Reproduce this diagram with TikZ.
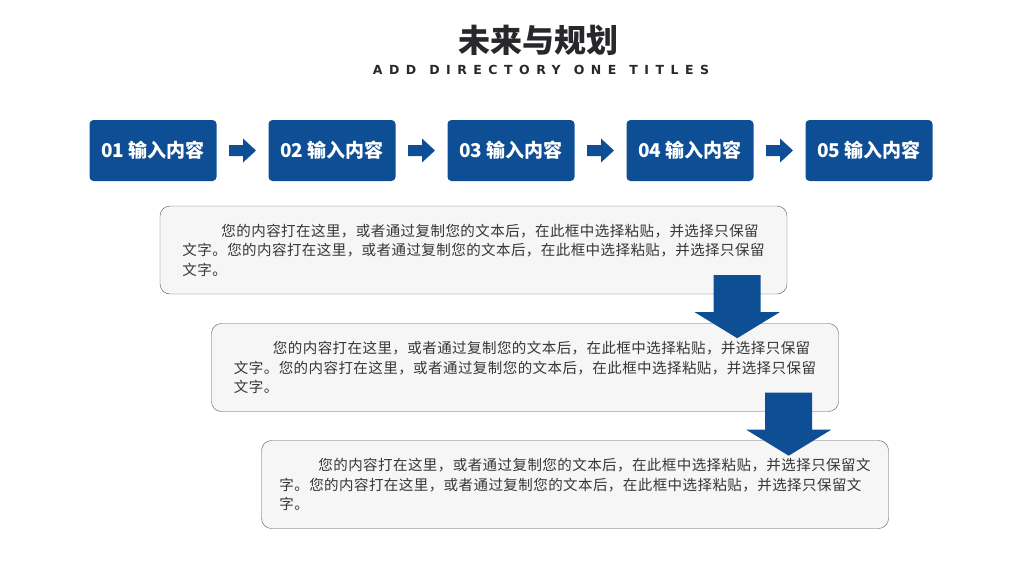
\documentclass[tikz,border=0pt]{standalone}
\usepackage{fontspec}
\usetikzlibrary{calc}
\newfontfamily\cjk{Noto Sans CJK SC}
\newfontfamily\cjkspaced{Noto Sans CJK SC}[LetterSpace=3]
\newfontfamily\subfont{DejaVu Sans}[LetterSpace=52]
\definecolor{stepblue}{RGB}{14,78,148}
\definecolor{titlegray}{RGB}{40,40,44}
\definecolor{bodygray}{RGB}{55,55,55}
\definecolor{boxfill}{RGB}{246,246,246}
\definecolor{boxline}{RGB}{85,85,85}
\newcommand{\wgap}{\hspace{13pt}}

\begin{document}
\begin{tikzpicture}[x=1pt, y=-1pt,
    stepbox/.style={fill=stepblue, rounded corners=4pt, minimum width=127pt, minimum height=61pt,
        inner sep=0pt, text=white, font=\cjk\bfseries\fontsize{19}{19}\selectfont},
    textbox/.style={draw=boxline, fill=boxfill, rounded corners=10pt, minimum width=627pt,
        minimum height=88pt, inner sep=0pt, align=left, text=bodygray,
        font=\cjkspaced\fontsize{14.5}{19.5}\selectfont},
    rarrow/.pic={\fill[stepblue] (-13.5,-5.5) -- (0.5,-5.5) -- (0.5,-12) -- (13.5,0)
        -- (0.5,12) -- (0.5,5.5) -- (-13.5,5.5) -- cycle;},
    darrow/.pic={\fill[stepblue] (-23.5,-34) -- (23.5,-34) -- (23.5,3) -- (42.5,3)
        -- (0,29) -- (-42.5,3) -- (-23.5,3) -- cycle;}]

    % Page
    \useasboundingbox (0,0) rectangle (1024,576);

    % Title
    \node[text=titlegray, font=\cjk\bfseries\fontsize{32}{32}\selectfont] (title) at (538,40) {未来与规划};
    \node[text=titlegray, font=\subfont\bfseries\fontsize{12.5}{12.5}\selectfont] (subtitle) at (541,70) {ADD\wgap DIRECTORY\wgap ONE\wgap TITLES};

    % Steps
    \foreach \i in {1,...,5}
        \node[stepbox] (s\i) at ({153+179*(\i-1)},150.5) {0\i\ 输入内容};

    % Arrows between steps
    \foreach \i [evaluate=\i as \j using int(\i+1)] in {1,...,4}
        \pic at ($(s\i.east)!0.5!(s\j.west)$) {rarrow};

    % Text boxes
    \node[textbox] (b1) at (473.5,250) {\hspace*{39pt}您的内容打在这里，或者通过复制您的文本后，在此框中选择粘贴，并选择只保留\\文字。您的内容打在这里，或者通过复制您的文本后，在此框中选择粘贴，并选择只保留\\文字。};
    \node[textbox] (b2) at (525,367.5) {\hspace*{39pt}您的内容打在这里，或者通过复制您的文本后，在此框中选择粘贴，并选择只保留\\文字。您的内容打在这里，或者通过复制您的文本后，在此框中选择粘贴，并选择只保留\\文字。};
    \node[textbox] (b3) at (575,484.5) {\hspace*{39pt}您的内容打在这里，或者通过复制您的文本后，在此框中选择粘贴，并选择只保留文\\字。您的内容打在这里，或者通过复制您的文本后，在此框中选择粘贴，并选择只保留文\\字。};

    % Down arrows
    \coordinate (d1) at ($(b1.south east)+(-50,15)$);
    \coordinate (d2) at ($(b2.south east)+(-50,15)$);
    \pic at (d1) {darrow};
    \pic at (d2) {darrow};

\end{tikzpicture}
\end{document}
